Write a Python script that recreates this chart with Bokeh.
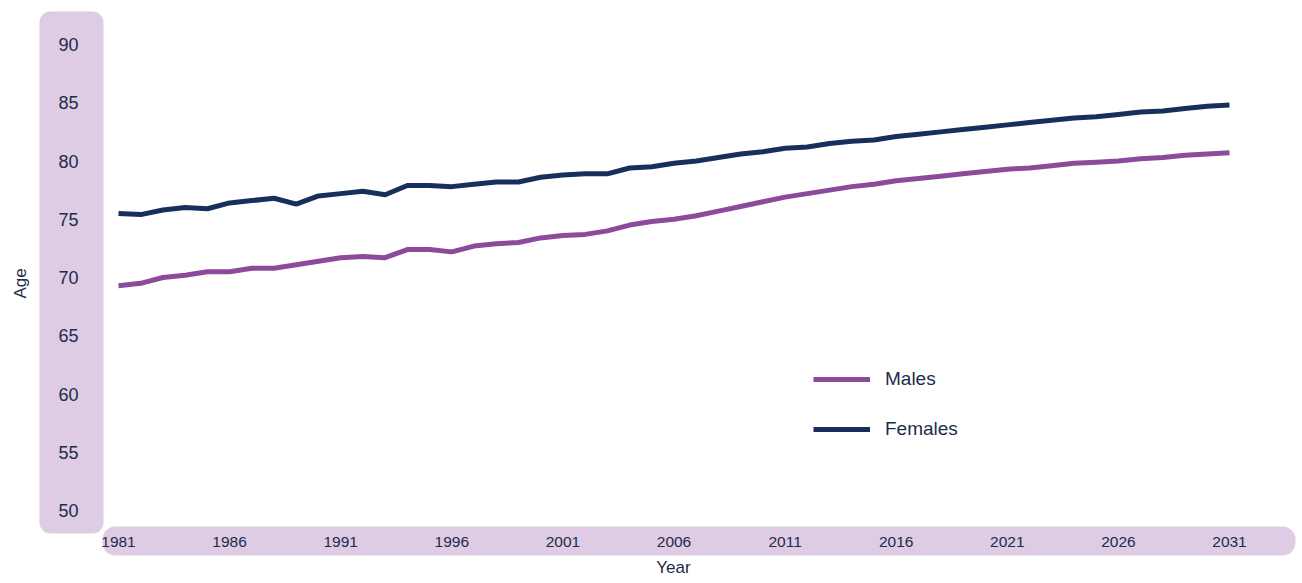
from bokeh.plotting import figure
from bokeh.models import BoxAnnotation, Legend, LegendItem, Range1d
from bokeh.core.properties import value
from bokeh.embed import file_html
from bokeh.resources import INLINE

# ---- data ----
years = list(range(1981, 2032))
males = [69.3, 69.5, 70.0, 70.2, 70.5, 70.5, 70.8, 70.8, 71.1, 71.4,
         71.7, 71.8, 71.7, 72.4, 72.4, 72.2, 72.7, 72.9, 73.0, 73.4,
         73.6, 73.7, 74.0, 74.5, 74.8, 75.0, 75.3, 75.7, 76.1, 76.5,
         76.9, 77.2, 77.5, 77.8, 78.0, 78.3, 78.5, 78.7, 78.9, 79.1,
         79.3, 79.4, 79.6, 79.8, 79.9, 80.0, 80.2, 80.3, 80.5, 80.6, 80.7]
females = [75.5, 75.4, 75.8, 76.0, 75.9, 76.4, 76.6, 76.8, 76.3, 77.0,
           77.2, 77.4, 77.1, 77.9, 77.9, 77.8, 78.0, 78.2, 78.2, 78.6,
           78.8, 78.9, 78.9, 79.4, 79.5, 79.8, 80.0, 80.3, 80.6, 80.8,
           81.1, 81.2, 81.5, 81.7, 81.8, 82.1, 82.3, 82.5, 82.7, 82.9,
           83.1, 83.3, 83.5, 83.7, 83.8, 84.0, 84.2, 84.3, 84.5, 84.7, 84.8]
x_ticks = list(range(1981, 2032, 5))
y_ticks = list(range(50, 91, 5))
x_tick_labels = [str(t) for t in x_ticks]
y_tick_labels = [str(t) for t in y_ticks]
series_names = ["Males", "Females"]
x_title = "Year"
y_title = "Age"

MALE_C = "#8C4A9B"
FEMALE_C = "#17305B"
LILAC = "#DDCCE3"
TEXT_C = "#222B4B"
FONT = "Liberation Sans"

# ---- geometry (canvas pixels -> data) ----
W, H = 1300, 580
X0P, X1P = 118, 1229        # px for 1981 / 2031
Y50P, Y90P = 510, 44        # px for 50 / 90
xs = (X1P - X0P) / 50.0
ys = (Y50P - Y90P) / 40.0

def px2x(px):
    return 1981 + (px - X0P) / xs

def px2y(py):
    return 50 + (Y50P - py) / ys

p = figure(width=W, height=H, output_backend="svg", toolbar_location=None,
           x_range=Range1d(px2x(0), px2x(W)), y_range=Range1d(px2y(H), px2y(0)),
           x_axis_location=None, y_axis_location=None,
           min_border=0)
p.outline_line_color = None
p.grid.visible = False
p.background_fill_color = "white"
p.border_fill_color = "white"

# lilac rounded panels behind the tick labels
ybar = BoxAnnotation(left=px2x(39), right=px2x(103), top=px2y(11), bottom=px2y(533),
                     fill_color=LILAC, fill_alpha=1, line_color=None, border_radius=11,
                     level="underlay")
xbar = BoxAnnotation(left=px2x(102), right=px2x(1295), top=px2y(526), bottom=px2y(555),
                     fill_color=LILAC, fill_alpha=1, line_color=None, border_radius=13,
                     level="underlay")
p.add_layout(ybar)
p.add_layout(xbar)

rm = p.line(years, males, line_color=MALE_C, line_width=5)
rf = p.line(years, females, line_color=FEMALE_C, line_width=5)

# tick labels (placed through the data scales)
p.text(x=x_ticks, y=[px2y(541)] * len(x_ticks), text=x_tick_labels,
       text_align="center", text_baseline="middle", text_font=value(FONT),
       text_font_size="15.5px", text_color=TEXT_C)
p.text(x=[px2x(78)] * len(y_ticks), y=y_ticks, text=y_tick_labels,
       text_align="right", text_baseline="middle", text_font=value(FONT),
       text_font_size="18px", text_color=TEXT_C)

# axis titles
p.text(x=[px2x(673)], y=[px2y(567)], text=[x_title], text_align="center",
       text_baseline="middle", text_font=value(FONT), text_font_size="17px",
       text_color=TEXT_C)
p.text(x=[px2x(20)], y=[px2y(283)], text=[y_title], text_align="center",
       text_baseline="middle", angle=1.5708, text_font=value(FONT),
       text_font_size="17px", text_color=TEXT_C)

legend = Legend(items=[LegendItem(label=series_names[0], renderers=[rm]),
                       LegendItem(label=series_names[1], renderers=[rf])],
                location=(813, H - 440), orientation="vertical",
                border_line_color=None, background_fill_alpha=0,
                padding=0, margin=0, spacing=28,
                glyph_width=57, glyph_height=22, label_height=22,
                label_standoff=15, label_text_font=FONT,
                label_text_font_size="19px", label_text_color=TEXT_C)
p.add_layout(legend)

open("out.html", "w").write(file_html(p, INLINE))
